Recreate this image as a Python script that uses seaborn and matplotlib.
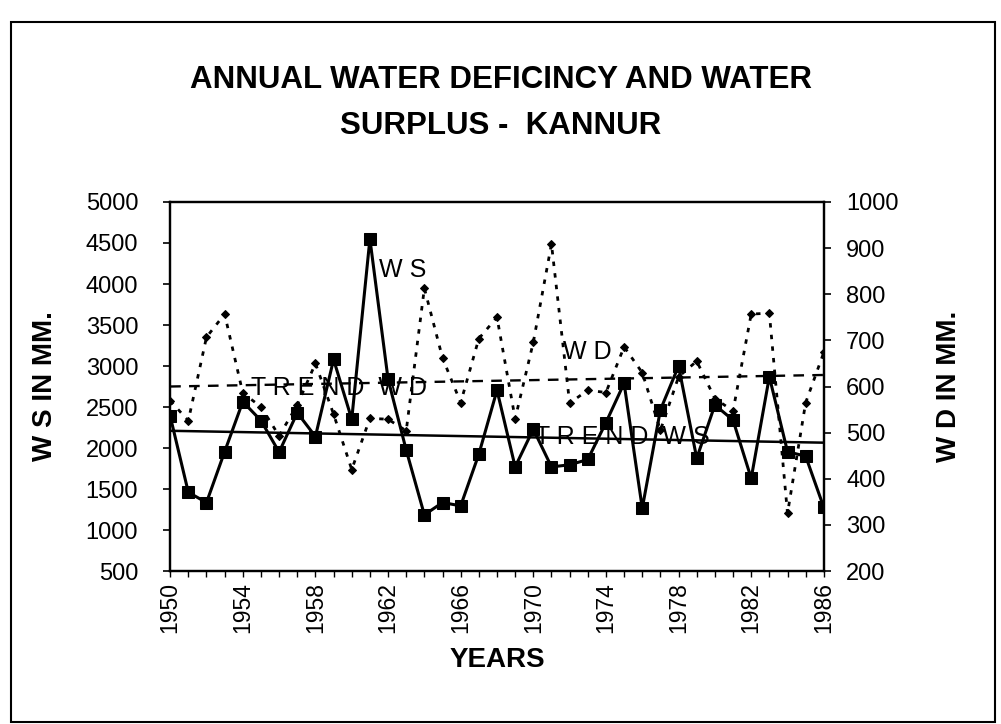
import matplotlib
matplotlib.use("Agg")
import matplotlib.pyplot as plt
import matplotlib.patches as patches
import numpy as np
import pandas as pd
import seaborn as sns

# values
years = list(range(1950, 1987))
ws = [2390, 1460, 1335, 1955, 2565, 2335, 1950, 2430, 2140, 3080,
      2350, 4550, 2840, 1975, 1185, 1335, 1295, 1925, 2705, 1770,
      2230, 1770, 1795, 1860, 2310, 2790, 1265, 2465, 3000, 1875,
      2525, 2340, 1630, 2870, 1955, 1900, 1275]
wd = [569, 526, 707, 757, 586, 556, 493, 560, 650, 540,
      420, 531, 529, 504, 813, 662, 565, 704, 750, 530,
      696, 909, 564, 592, 587, 686, 630, 505, 621, 655,
      574, 547, 757, 759, 325, 565, 674]
trend_years = [1950, 1986]
trend_ws = [2210, 2065]
trend_wd = [600, 625]

ws_ticks = [500, 1000, 1500, 2000, 2500, 3000, 3500, 4000, 4500, 5000]
wd_ticks = [200, 300, 400, 500, 600, 700, 800, 900, 1000]
year_labels = list(range(1950, 1987, 4))

df = pd.DataFrame({'year': years, 'ws': ws, 'wd': wd})

sns.set_style("white")
plt.rcParams['font.family'] = ['Liberation Sans', 'DejaVu Sans']
plt.rcParams['text.color'] = 'black'
plt.rcParams['axes.labelcolor'] = 'black'
plt.rcParams['xtick.color'] = 'black'
plt.rcParams['ytick.color'] = 'black'

fig = plt.figure(figsize=(10.01, 7.24), dpi=100)
ax1 = fig.add_axes([0.170, 0.2113, 0.653, 0.5097])
ax2 = ax1.twinx()

sns.lineplot(data=df, x='year', y='ws', ax=ax1, color='black', lw=2.2,
             marker='s', markersize=8, markeredgecolor='black')
sns.lineplot(x=trend_years, y=trend_ws, ax=ax1, color='black', lw=1.8)

sns.lineplot(data=df, x='year', y='wd', ax=ax2, color='black', lw=2.0,
             linestyle=(0, (1.6, 2.6)), marker='D', markersize=4.5,
             markeredgecolor='black')
sns.lineplot(x=trend_years, y=trend_wd, ax=ax2, color='black', lw=1.7,
             linestyle=(0, (4.5, 3.5)))

ax1.set_xlim(1950, 1986)
ax1.set_ylim(500, 5000)
ax2.set_ylim(200, 1000)
ax1.set_yticks(ws_ticks)
ax2.set_yticks(wd_ticks)
ax1.set_xticks(years)
ax1.set_xticklabels([str(y) if y in year_labels else '' for y in years], rotation=90)

for ax in (ax1, ax2):
    for s in ax.spines.values():
        s.set_color('black')
        s.set_linewidth(1.6)
ax1.tick_params(axis='y', direction='out', length=5, width=1.2, pad=18,
                labelsize=17, left=True)
ax1.tick_params(axis='x', direction='out', length=4, width=1.0, pad=4,
                labelsize=16.5, bottom=True)
ax2.tick_params(axis='y', direction='out', length=5, width=1.2, pad=11,
                labelsize=17, right=True)

ax1.set_xlabel('YEARS', fontsize=20, fontweight='bold', labelpad=10)
ax1.set_ylabel('W S IN MM.', fontsize=20, fontweight='bold', labelpad=20)
ax2.set_ylabel('W D IN MM.', fontsize=20, fontweight='bold', labelpad=27)

# series labels written inside the plot
ax1.text(1962.8, 4170, 'W S', fontsize=18, ha='center', va='center')
ax1.text(1959.3, 2730, 'T R E N D  W D', fontsize=18, ha='center', va='center')
ax1.text(1972.95, 3170, 'W D', fontsize=18, ha='center', va='center')
ax1.text(1974.9, 2135, 'T R E N D  W S', fontsize=18, ha='center', va='center')

fig.text(0.5, 1 - 80 / 724, 'ANNUAL WATER DEFICINCY AND WATER', fontsize=22.5,
         fontweight='bold', ha='center', va='center')
fig.text(0.5, 1 - 126 / 724, 'SURPLUS -  KANNUR', fontsize=22.5,
         fontweight='bold', ha='center', va='center')

fig.patches.append(patches.Rectangle((0.011, 0.003), 0.983, 0.967, transform=fig.transFigure,
                                     fill=False, edgecolor='black', linewidth=1.5))

fig.savefig('out.png', dpi=100)
